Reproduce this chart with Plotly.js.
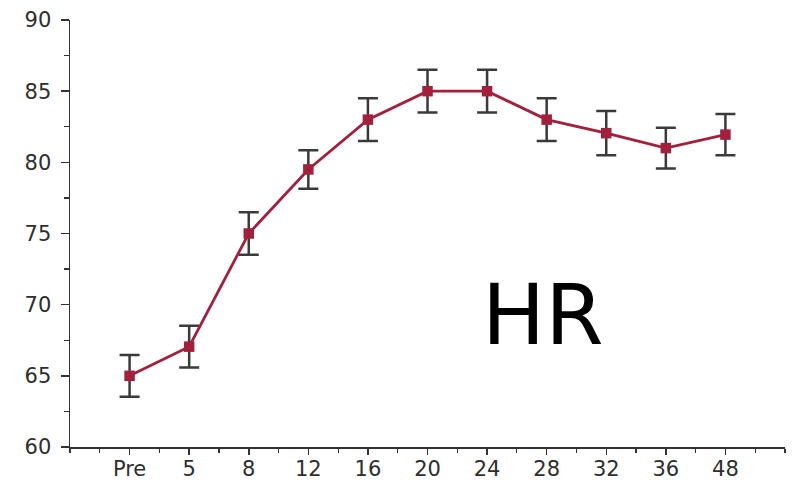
<!DOCTYPE html>
<html>
<head>
<meta charset="utf-8">
<script src="https://cdn.plot.ly/plotly-3.0.1.min.js"></script>
<style>html,body{margin:0;padding:0;background:#fff;}#chart{width:792px;height:480px;}</style>
</head>
<body>
<div id="chart"></div>
<script>
var categories = ["Pre", "5", "8", "12", "16", "20", "24", "28", "32", "36", "48"];
var hrValues = [65.0, 67.05, 75.0, 79.5, 83.0, 85.0, 85.0, 83.0, 82.05, 81.0, 81.95];
var hrErrors = [1.47, 1.46, 1.5, 1.35, 1.5, 1.5, 1.5, 1.5, 1.55, 1.43, 1.45];
var yTicks = [60, 65, 70, 75, 80, 85, 90];

var xPos = categories.map(function (c, i) { return i; });

var trace = {
  x: xPos,
  y: hrValues,
  type: "scatter",
  mode: "lines+markers",
  line: {color: "#a3203d", width: 2.8},
  marker: {symbol: "square", size: 10.5, color: "#a3203d"},
  error_y: {type: "data", array: hrErrors, visible: true, color: "#3a3a3a", thickness: 2.5, width: 10},
  showlegend: false,
  hoverinfo: "skip"
};

var tickFont = {family: "DejaVu Sans, Liberation Sans, Arial, sans-serif", size: 21, color: "#2e2e2e"};

var layout = {
  width: 792,
  height: 480,
  margin: {l: 70, r: 7, t: 20, b: 33},
  paper_bgcolor: "#ffffff",
  plot_bgcolor: "#ffffff",
  xaxis: {
    range: [-1, 11],
    tickmode: "array",
    tickvals: xPos,
    ticktext: categories,
    ticks: "outside",
    ticklen: 6,
    tickwidth: 1.5,
    tickcolor: "#333333",
    showline: true,
    linecolor: "#333333",
    linewidth: 1.5,
    showgrid: false,
    zeroline: false,
    tickfont: tickFont,
    ticklabelstandoff: -4,
    minor: {tickmode: "linear", tick0: -1, dtick: 0.5, ticks: "outside", ticklen: 4, tickwidth: 1.2, tickcolor: "#333333", showgrid: false}
  },
  yaxis: {
    range: [60, 90],
    tickmode: "array",
    tickvals: yTicks,
    ticks: "outside",
    ticklen: 8,
    tickwidth: 1.5,
    tickcolor: "#333333",
    showline: true,
    linecolor: "#333333",
    linewidth: 1.5,
    showgrid: false,
    zeroline: false,
    tickfont: tickFont,
    ticklabelstandoff: 5,
    minor: {tickmode: "linear", tick0: 60, dtick: 2.5, ticks: "outside", ticklen: 5, tickwidth: 1.2, tickcolor: "#333333", showgrid: false}
  },
  annotations: [{
    text: "HR",
    xref: "paper", yref: "paper",
    x: 0.662, y: 0.31,
    xanchor: "center", yanchor: "middle",
    showarrow: false,
    font: {family: "DejaVu Sans, Liberation Sans, sans-serif", size: 84, color: "#000000"}
  }]
};

Plotly.newPlot("chart", [trace], layout, {displayModeBar: false, staticPlot: true});
</script>
</body>
</html>
